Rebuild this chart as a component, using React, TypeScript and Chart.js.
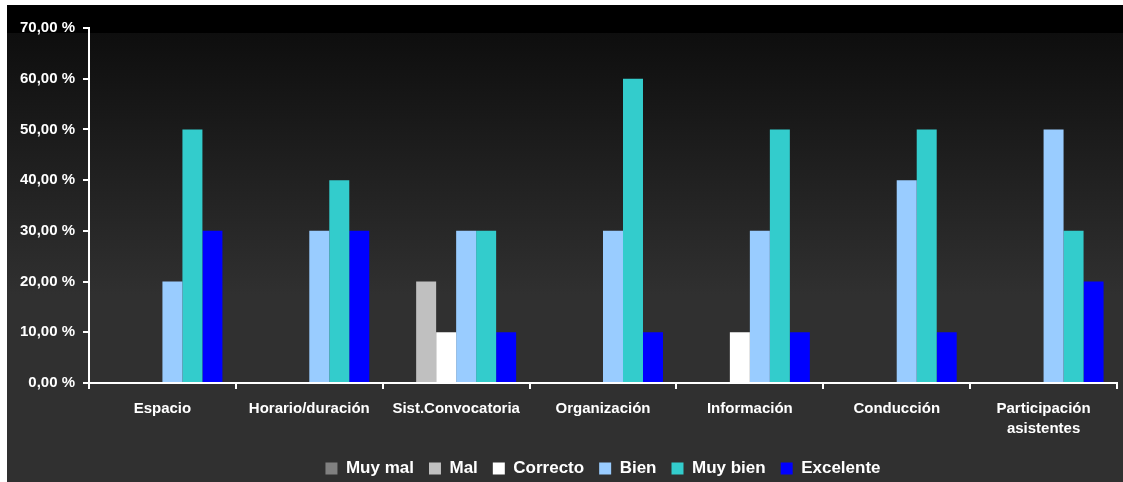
import React, { useEffect, useRef } from "react";
import { Chart, registerables } from "chart.js";

Chart.register(...registerables);

const categories: (string | string[])[] = [
  "Espacio",
  "Horario/duración",
  "Sist.Convocatoria",
  "Organización",
  "Información",
  "Conducción",
  ["Participación", "asistentes"],
];

const seriesNames = ["Muy mal", "Mal", "Correcto", "Bien", "Muy bien", "Excelente"];
const seriesColors = ["#808080", "#c0c0c0", "#ffffff", "#99ccff", "#33cccc", "#0000ff"];

const muyMal = [0, 0, 0, 0, 0, 0, 0];
const mal = [0, 0, 20, 0, 0, 0, 0];
const correcto = [0, 0, 10, 0, 10, 0, 0];
const bien = [20, 30, 30, 30, 30, 40, 50];
const muyBien = [50, 40, 30, 60, 50, 50, 30];
const excelente = [30, 30, 10, 10, 10, 10, 20];

const seriesValues = [muyMal, mal, correcto, bien, muyBien, excelente];

const yMin = 0;
const yMax = 70;
const yStep = 10;

const FONT = "'Liberation Sans', Arial, sans-serif";

const bgPlugin = {
  id: "bgGradient",
  beforeDraw(chart: any) {
    const { ctx, width, height } = chart;
    ctx.save();
    ctx.fillStyle = "#000000";
    ctx.fillRect(0, 0, width, 28);
    const g = ctx.createLinearGradient(0, 28, 0, 290);
    g.addColorStop(0, "#0e0e0e");
    g.addColorStop(1, "#303030");
    ctx.fillStyle = g;
    ctx.fillRect(0, 28, width, 262);
    ctx.fillStyle = "#303030";
    ctx.fillRect(0, 290, width, height - 290);
    ctx.restore();
  },
};

const legendShift = {
  id: "legendShift",
  afterLayout(chart: any) {
    if (chart.legend) {
      chart.legend.left += 41;
      chart.legend.right += 41;
    }
  },
};

export default function App() {
  const ref = useRef<HTMLCanvasElement | null>(null);

  useEffect(() => {
    if (!ref.current) return;
    const chart = new Chart(ref.current, {
      type: "bar",
      data: {
        labels: categories as any,
        datasets: seriesNames.map((name, i) => ({
          label: name,
          data: seriesValues[i],
          backgroundColor: seriesColors[i],
          borderWidth: 0,
          barPercentage: 1,
          categoryPercentage: 0.817,
        })),
      },
      options: {
        animation: false,
        responsive: true,
        maintainAspectRatio: false,
        layout: { padding: { top: 23, right: 6, left: 0, bottom: -5 } },
        plugins: {
          tooltip: { enabled: false },
          legend: {
            position: "bottom",
            labels: {
              color: "#ffffff",
              boxWidth: 12,
              boxHeight: 12,
              padding: 15,
              font: { family: FONT, size: 17, weight: "bold" },
            },
          },
        },
        scales: {
          x: {
            offset: true,
            grid: {
              display: true,
              offset: true,
              drawOnChartArea: false,
              drawTicks: true,
              tickLength: 6,
              color: "#ffffff",
              lineWidth: 2,
            },
            border: { display: true, color: "#ffffff", width: 2 },
            ticks: {
              color: "#ffffff",
              padding: 10,
              maxRotation: 0,
              autoSkip: false,
              font: { family: FONT, size: 15, weight: "bold", lineHeight: 1.33 },
            },
            afterFit(scale: any) {
              scale.height = 62;
            },
          },
          y: {
            min: yMin,
            max: yMax,
            grid: {
              display: true,
              drawOnChartArea: false,
              drawTicks: true,
              tickLength: 6,
              color: "#ffffff",
              lineWidth: 2,
            },
            border: { display: true, color: "#ffffff", width: 2 },
            ticks: {
              stepSize: yStep,
              color: "#ffffff",
              padding: 8,
              font: { family: FONT, size: 15, weight: "bold" },
              callback: (v: any) => Number(v).toFixed(2).replace(".", ",") + " %",
            },
            afterFit(scale: any) {
              scale.width = 82;
            },
          },
        },
      },
      plugins: [bgPlugin, legendShift],
    });
    return () => chart.destroy();
  }, []);

  return (
    <div style={{ position: "absolute", left: 7, top: 5, width: 1116, height: 477 }}>
      <canvas ref={ref} />
    </div>
  );
}
